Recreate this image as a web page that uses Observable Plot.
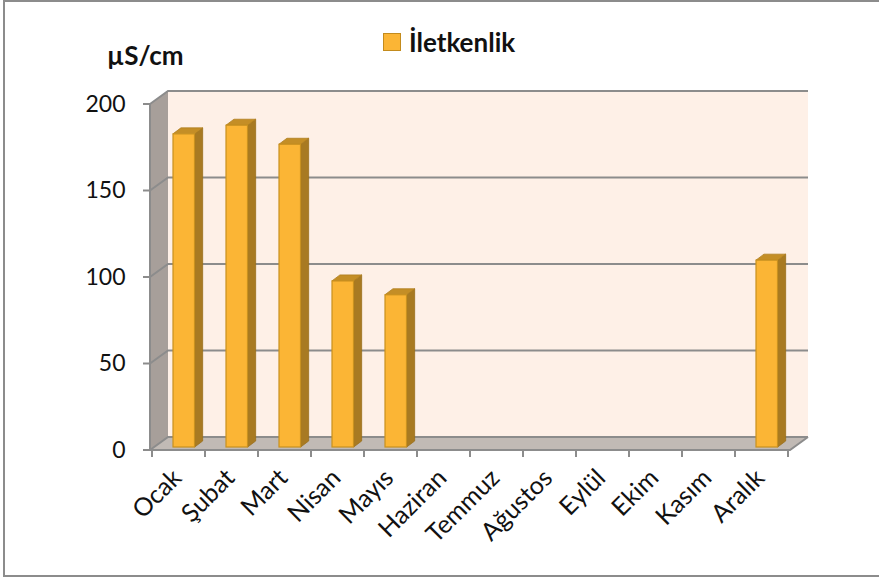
<!DOCTYPE html>
<html><head><meta charset="utf-8">
<script src="https://cdn.jsdelivr.net/npm/d3@7"></script>
<script src="https://cdn.jsdelivr.net/npm/@observablehq/plot@0.6"></script>
<style>
body{margin:0;background:#fff;font-family:Lato,sans-serif;color:#111;}
#wrap{position:relative;width:879px;height:581px;overflow:hidden;}
#chart{position:absolute;left:0;top:0;}
#border{position:absolute;left:3px;top:0;width:900px;height:577px;border:2px solid #8c8c8c;box-sizing:border-box;}
#unit{position:absolute;left:107px;top:40px;font-weight:bold;font-size:26px;line-height:30px;}
#legend{position:absolute;left:383px;top:27px;display:flex;align-items:center;font-weight:bold;font-size:26px;line-height:30px;}
#legend .sw{width:16px;height:16px;background:#FBB535;border:1.5px solid #C38B1D;margin-right:8px;}
</style></head>
<body>
<div id="wrap">
  <div id="chart"></div>
  <div id="border"></div>
  <div id="unit"></div>
  <div id="legend"><span class="sw"></span><span id="lgtext"></span></div>
</div>
<script>
const months = ["Ocak","Şubat","Mart","Nisan","Mayıs","Haziran","Temmuz","Ağustos","Eylül","Ekim","Kasım","Aralık"];
const conductivity = [181, 186, 175, 96, 88, null, null, null, null, null, null, 108];
const yTicks = [0, 50, 100, 150, 200];
const seriesName = "İletkenlik";
const unitLabel = "µS/cm";

document.getElementById("unit").textContent = unitLabel;
document.getElementById("lgtext").textContent = seriesName;

const data = months.map((m, i) => ({month: m, value: conductivity[i]}));
const bars = data.filter(d => d.value != null);

const DX = 18, DY = -13;      // wall depth
const BX = 8, BY = -6;        // bar depth
const LIFT = 3;               // bars sit slightly behind the front edge

function walls(index, {x, y}, values, dim) {
  const L = dim.marginLeft, R = dim.width - dim.marginRight;
  const T = y(yTicks[yTicks.length - 1]), B = y(0);
  const g = d3.create("svg:g");
  g.append("rect").attr("x", L + DX).attr("y", T + DY).attr("width", R - L).attr("height", B - T).attr("fill", "#FEF0E7");
  g.append("path").attr("d", `M${L},${T}L${L+DX},${T+DY}L${L+DX},${B+DY}L${L},${B}Z`).attr("fill", "#A79F9A");
  g.append("path").attr("d", `M${L},${B}L${L+DX},${B+DY}L${R+DX},${B+DY}L${R},${B}Z`).attr("fill", "#C1BAB5");
  for (const t of yTicks) {
    const yy = y(t);
    g.append("path").attr("d", `M${L},${yy}L${L+DX},${yy+DY}L${R+DX},${yy+DY}`)
      .attr("fill", "none").attr("stroke", "#8C8C8C").attr("stroke-width", 2);
  }
  return g.node();
}

function axes(index, {x, y}, values, dim) {
  const L = dim.marginLeft, R = dim.width - dim.marginRight;
  const T = y(yTicks[yTicks.length - 1]), B = y(0);
  const g = d3.create("svg:g").attr("stroke", "#8C8C8C").attr("stroke-width", 2).attr("fill", "none");
  g.append("path").attr("d", `M${L},${T}V${B}H${R}L${R+DX},${B+DY}`);
  for (const t of yTicks) g.append("path").attr("d", `M${L-7},${y(t)}H${L}`);
  const bw = x.bandwidth();
  for (const m of months) g.append("path").attr("d", `M${x(m)},${B}v7`);
  g.append("path").attr("d", `M${x(months[months.length-1]) + bw},${B}v7`);
  return g.node();
}

function barSides(index, {x, y}, values, dim) {
  const bw = x.bandwidth();
  const g = d3.create("svg:g");
  for (const d of bars) {
    const x0 = x(d.month) + bw * 0.395, w = bw * 0.41;
    const yb = y(0) - LIFT, yt = y(d.value) - LIFT;
    g.append("path").attr("d", `M${x0+w},${yt}L${x0+w+BX},${yt+BY}V${yb+BY}L${x0+w},${yb}Z`)
      .attr("fill", "#A87A22").attr("stroke", "#9A6F1C").attr("stroke-width", 0.8);
    g.append("path").attr("d", `M${x0},${yt}L${x0+BX},${yt+BY}H${x0+w+BX}L${x0+w},${yt}Z`)
      .attr("fill", "#C48E26").attr("stroke", "#B07F1F").attr("stroke-width", 0.8);
  }
  return g.node();
}

const chart = Plot.plot({
  width: 879,
  height: 581,
  marginLeft: 150,
  marginRight: 89,
  marginTop: 104,
  marginBottom: 131,
  style: {background: "transparent", fontFamily: "Lato, sans-serif", fontSize: "23px", color: "#111"},
  x: {type: "band", domain: months, padding: 0, label: null, axis: null},
  y: {domain: [0, 200], nice: false, ticks: yTicks, tickSize: 0, tickPadding: 25, label: null},
  marks: [
    walls,
    barSides,
    Plot.barY(bars, {
      x: "month", y: "value",
      insetLeft: 21, insetRight: 10.5,
      dy: -LIFT,
      fill: "#FBB535", stroke: "#C9911F", strokeWidth: 1.2
    }),
    axes,
    Plot.text(months, {
      x: d => d, frameAnchor: "bottom", rotate: -45, textAnchor: "end",
      dy: 29, dx: 4, fontSize: 25, fill: "#111"
    })
  ]
});
document.getElementById("chart").appendChild(chart);
</script>
</body></html>
